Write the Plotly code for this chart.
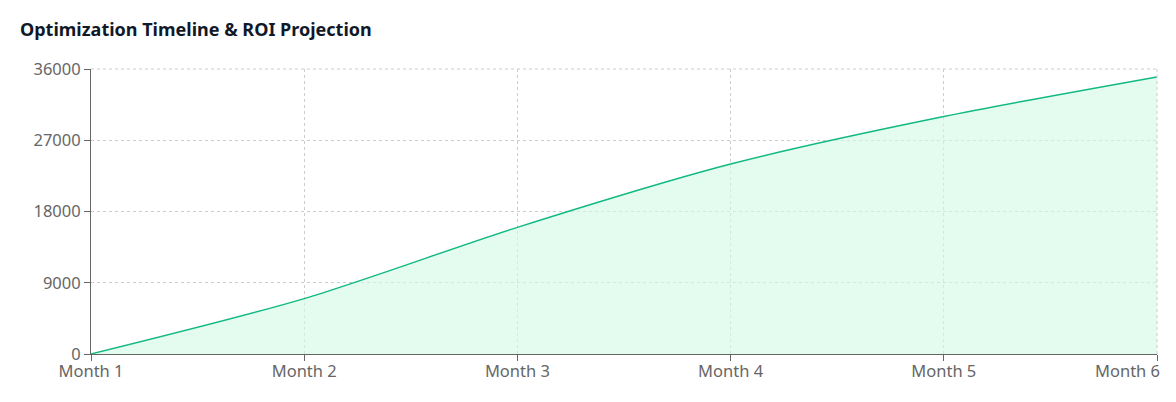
import plotly.graph_objects as go

months = ["Month 1", "Month 2", "Month 3", "Month 4", "Month 5", "Month 6"]
roi = [0, 7000, 16000, 24000, 30000, 35000]
y_ticks = [0, 9000, 18000, 27000, 36000]

FONT = "Noto Sans, Open Sans, sans-serif"
W, H = 1160, 386  # page has an 8px body margin
TICK_SIZE = 16.5

fig = go.Figure()
fig.add_trace(go.Scatter(
    x=months, y=roi, mode="lines",
    line=dict(color="#10b981", width=1.4, shape="spline", smoothing=0.8),
    fill="tozeroy", fillcolor="rgba(209,250,229,0.6)",
    hoverinfo="x+y",
))

fig.update_layout(
    width=W, height=H,
    margin=dict(l=83, r=11, t=61, b=40),
    paper_bgcolor="white", plot_bgcolor="white",
    showlegend=False,
    font=dict(family=FONT, size=TICK_SIZE, color="#666666"),
    title=dict(text="<b>Optimization Timeline & ROI Projection</b>",
               x=12/W, xanchor="left", y=1-22/H, yanchor="middle",
               font=dict(family=FONT, size=18, color="#111827")),
)
grid = dict(showgrid=True, gridcolor="#cccccc", griddash="3px,3px", gridwidth=1,
            showline=True, linecolor="#666666", linewidth=1,
            ticks="outside", ticklen=6, tickcolor="#666666",
            zeroline=False, fixedrange=True, automargin=False)
fig.update_xaxes(type="category", range=[0, len(months) - 1],
                 tickvals=months, ticktext=months[:-1] + [""],
                 ticklabelstandoff=-4, **grid)
fig.update_yaxes(range=[0, 36000], tickvals=y_ticks,
                 ticktext=[str(v) for v in y_ticks], **grid)

# grid lines on the top and right edges of the plotting area
dash = dict(color="#cccccc", width=1, dash="3px,3px")
fig.add_shape(type="line", xref="paper", yref="paper", x0=0, x1=1, y0=1, y1=1, line=dash)
fig.add_shape(type="line", xref="paper", yref="paper", x0=1, x1=1, y0=0, y1=1, line=dash)

# last x label shifted to stay inside the chart
fig.add_annotation(x=months[-1], y=0, xref="x", yref="y", text=months[-1],
                   showarrow=False, xanchor="right", yanchor="middle",
                   xshift=5, yshift=-16, font=dict(family=FONT, size=TICK_SIZE, color="#666666"))

fig.write_html("out.html")
